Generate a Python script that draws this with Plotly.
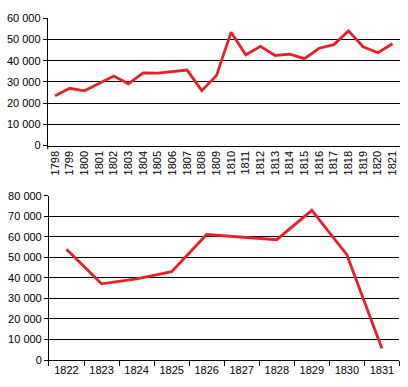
import plotly.graph_objects as go

years_top = [str(y) for y in range(1798, 1822)]
values_top = [23500, 27000, 25800, 29200, 32800, 29100, 34300, 34200, 35000, 35600,
              25900, 33000, 53500, 42800, 46800, 42500, 43100, 41000, 45900, 47600,
              54100, 46600, 43800, 48000]

years_bot = [str(y) for y in range(1822, 1832)]
values_bot = [53900, 37100, 39500, 43000, 61100, 60000, 58600, 72900, 51300, 5600]

red = "#e8202a"
font = dict(family="Liberation Sans, Arial, sans-serif", size=11, color="black")

fig = go.Figure()
fig.add_trace(go.Scatter(x=years_top, y=values_top, mode="lines",
                         line=dict(color=red, width=2.8), xaxis="x", yaxis="y",
                         showlegend=False, hoverinfo="skip"))
fig.add_trace(go.Scatter(x=years_bot, y=values_bot, mode="lines",
                         line=dict(color=red, width=2.8), xaxis="x2", yaxis="y2",
                         showlegend=False, hoverinfo="skip"))

yaxis_common = dict(showgrid=True, gridcolor="black", gridwidth=1, zeroline=False,
                    showline=True, linecolor="black", linewidth=1,
                    ticks="outside", ticklen=4, tickcolor="black",
                    tickformat=",d", tickfont=font, fixedrange=True)

fig.update_layout(
    width=408, height=387,
    margin=dict(l=0, r=0, t=0, b=0),
    paper_bgcolor="white", plot_bgcolor="white",
    separators=", ",
    font=font,
    xaxis=dict(domain=[0.117, 0.980], anchor="y", type="category",
               range=[-0.5, len(years_top) - 0.5], tickangle=-90,
               showgrid=False, showline=True, linecolor="black", linewidth=1,
               ticks="", tickfont=font, zeroline=False),
    yaxis=dict(domain=[0.628, 0.967], anchor="x", range=[0, 60000],
               dtick=10000, **yaxis_common),
    xaxis2=dict(domain=[0.120, 0.979], anchor="y2", type="category",
                range=[-0.5, len(years_bot) - 0.5], tickangle=0,
                showgrid=False, showline=True, linecolor="black", linewidth=1,
                ticks="outside", ticklen=5, tickcolor="black",
                tickson="boundaries", tickfont=font, zeroline=False),
    yaxis2=dict(domain=[0.056, 0.494], anchor="x2", range=[0, 80000],
                dtick=10000, **yaxis_common),
    shapes=[dict(type="line", xref="x domain", yref="paper",
                 x0=0, x1=0, y0=0.628, y1=0.618,
                 line=dict(color="black", width=1))],
)

fig.write_html("out.html", config={"displayModeBar": False},
               post_script="document.body.style.margin='0px';document.body.style.overflow='hidden';")
